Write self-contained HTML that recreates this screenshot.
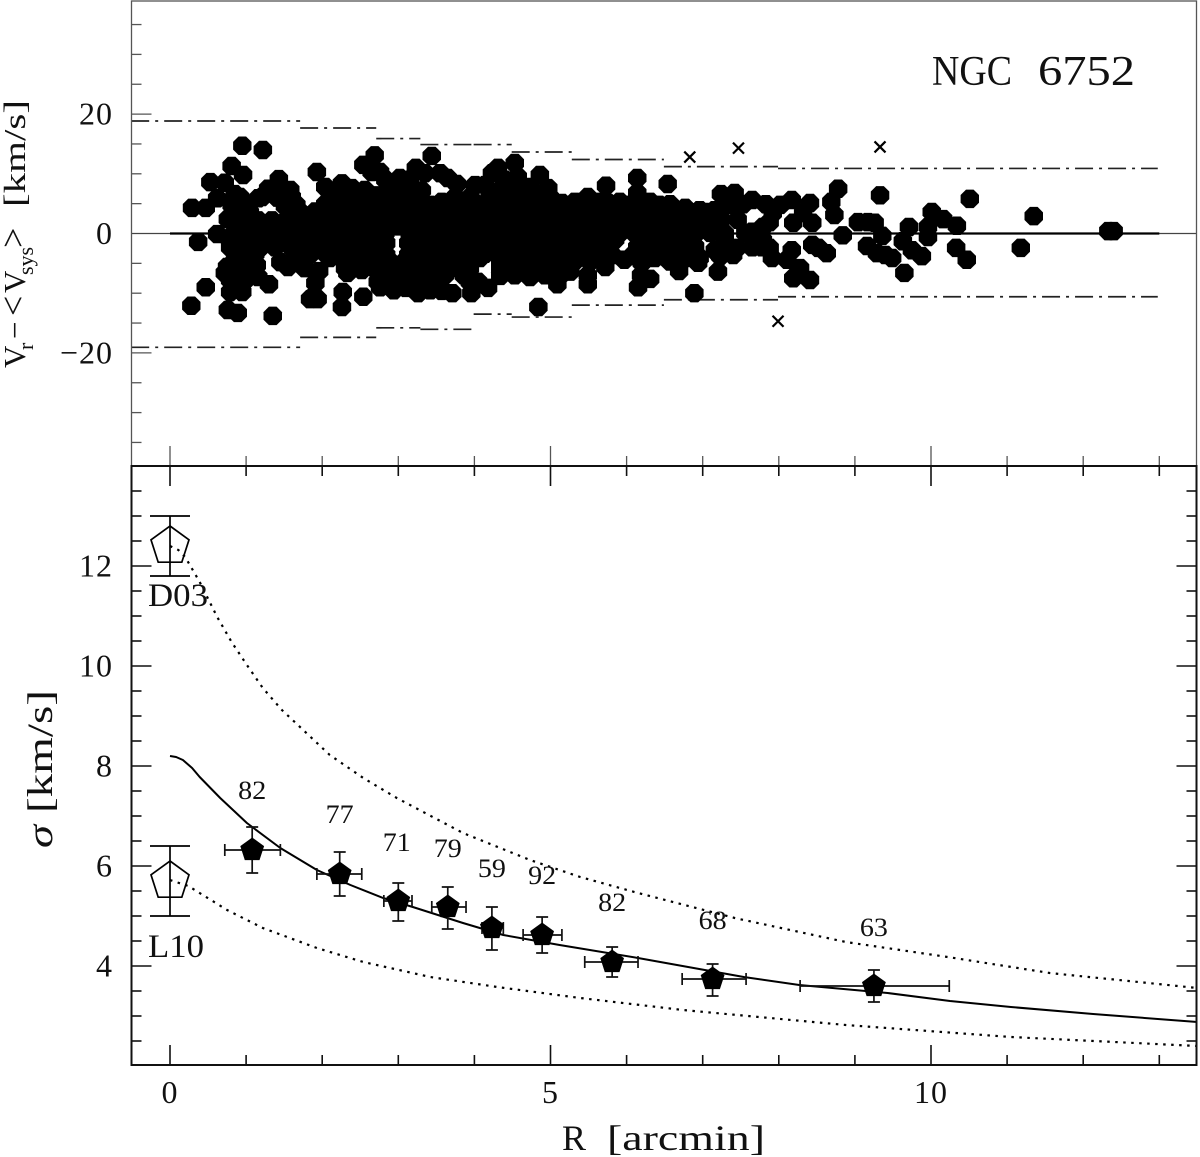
<!DOCTYPE html>
<html lang="en">
<head>
<meta charset="utf-8">
<title>NGC 6752 velocity dispersion</title>
<style>
html,body{margin:0;padding:0;background:#fff;}
svg{display:block;}
text{font-family:"Liberation Serif","DejaVu Serif",serif;fill:#111;}
</style>
</head>
<body>
<svg id="chart" xmlns="http://www.w3.org/2000/svg" width="1200" height="1157" viewBox="0 0 1200 1157">
  <rect x="0" y="0" width="1200" height="1157" fill="#fff"/>
  <g id="topPanel"></g>
  <g id="botPanel"></g>
  <rect x="131.5" y="1" width="1065" height="465" fill="none" stroke="#555" stroke-width="1.3"/>
  <rect x="131.5" y="466" width="1065" height="599" fill="none" stroke="#111" stroke-width="2"/>
  <g font-size="42">
    <text x="932" y="85" textLength="80" lengthAdjust="spacingAndGlyphs">NGC</text>
    <text x="1038" y="85" textLength="97" lengthAdjust="spacingAndGlyphs">6752</text>
  </g>
  <g font-size="36">
    <text x="562" y="1150" textLength="24" lengthAdjust="spacingAndGlyphs">R</text>
    <text x="607" y="1150" textLength="158" lengthAdjust="spacingAndGlyphs">[arcmin]</text>
  </g>
  <g transform="translate(52,848) rotate(-90)" font-size="36">
    <text x="0" y="0" font-style="italic" textLength="23" lengthAdjust="spacingAndGlyphs">σ</text>
    <text x="35" y="0" textLength="123" lengthAdjust="spacingAndGlyphs">[km/s]</text>
  </g>
  <g transform="translate(25,368) rotate(-90)" font-size="31" fill="#222">
    <text x="0" y="0">V</text>
    <text x="18" y="8" font-size="22">r</text>
    <text x="29" y="0">−</text>
    <text x="52" y="0" font-size="36">&lt;</text>
    <text x="75" y="0">V</text>
    <text x="93" y="8" font-size="22">sys</text>
    <text x="120" y="0" font-size="36">&gt;</text>
    <text x="161" y="0" textLength="107" lengthAdjust="spacingAndGlyphs">[km/s]</text>
  </g>
  <text x="148" y="606" font-size="33" textLength="60" lengthAdjust="spacingAndGlyphs">D03</text>
  <text x="148" y="957" font-size="33" textLength="56" lengthAdjust="spacingAndGlyphs">L10</text>
</svg>
<script>
// ---------- chart data ----------
const starRadius = [
0.95,1.22,0.81,0.96,0.53,0.72,0.85,0.29,0.47,0.62,
0.62,0.37,0.47,0.28,0.79,0.95,0.76,0.89,1.35,1.30,
1.16,0.72,0.75,0.89,1.14,1.43,1.29,1.16,1.93,1.55,
1.45,1.68,1.96,1.88,1.84,1.94,2.26,2.27,2.54,2.39,
2.54,2.69,2.65,2.04,2.08,2.33,2.52,3.02,3.44,3.23,
3.35,3.55,3.65,3.77,3.57,4.01,4.14,4.23,4.31,4.53,
4.57,4.86,4.97,4.73,5.15,3.97,2.83,2.72,3.25,2.76,
2.94,3.10,3.26,3.42,3.57,3.71,3.96,4.18,4.84,5.09,
4.73,6.14,5.73,6.54,6.14,5.49,5.28,5.98,5.76,6.43,
6.77,7.24,7.42,7.65,7.83,6.99,7.33,6.60,6.27,5.49,
5.49,5.72,5.97,6.15,6.19,6.31,6.20,6.69,6.48,6.94,
7.20,6.89,7.40,7.16,7.65,7.78,8.78,8.69,8.73,9.33,
10.51,8.17,8.02,8.41,8.32,8.19,8.44,7.92,7.79,7.88,
7.91,8.17,8.11,8.28,8.19,8.41,8.44,8.63,8.52,8.84,
9.04,9.17,9.26,9.36,9.16,9.29,9.49,9.40,9.65,9.63,
9.71,9.75,9.88,9.96,10.01,9.96,10.16,10.34,10.33,10.47,
11.35,11.18,12.33,12.40,7.79,
0.81,1.02,1.51,1.66,2.04,2.23,2.43,2.63,2.83,3.02,
3.22,3.42,3.61,3.81,4.01,4.20,4.40,4.60,4.80,4.99,
5.19,5.39,5.58,5.78,6.18,6.37,6.57,6.96,7.16,7.36,7.53,
0.76,0.96,1.16,1.34,1.54,1.71,1.91,2.10,2.30,2.50,
2.69,2.89,3.09,3.29,3.48,3.68,3.88,4.07,4.27,4.47,
4.66,4.86,5.06,5.26,5.45,5.65,5.85,6.04,6.24,6.44,
6.64,6.83,7.03,7.23,
0.85,1.05,1.25,1.45,1.64,1.84,2.04,2.23,2.43,2.63,
2.83,3.15,3.35,3.55,3.75,3.94,4.14,4.34,4.53,4.73,
4.93,5.12,5.32,5.52,5.72,5.91,6.11,6.31,6.50,6.70,
6.90,7.10,7.29,7.56,7.75,
0.79,0.99,1.18,1.38,1.58,1.77,1.97,2.17,2.37,2.56,
2.76,3.18,3.38,3.57,3.77,3.97,4.17,4.36,4.56,4.76,
4.95,5.15,5.35,5.55,5.74,6.14,6.33,6.53,6.73,6.90,
7.25,7.45,
0.85,1.05,2.10,2.30,2.50,2.69,2.89,3.09,3.29,3.48,
3.68,3.88,4.07,4.34,4.53,4.73,4.93,5.12,5.32,5.52,
5.72,6.18,6.37,6.57,6.77,6.96,7.23,
2.83,3.02,3.22,3.42,3.61,3.86,4.34,4.53,4.93,5.12,5.26,
1.71,2.10,2.50,2.89,3.29,3.68,4.07,4.47,4.86,5.26,
5.65,6.04,6.44,6.83,7.23,
0.92,1.31,1.71,2.19,2.59,2.98,3.38,3.77,4.17,4.56,
4.95,5.35,5.74,6.14,6.53,6.93,
0.99,1.38,1.77,2.30,2.69,3.29,3.68,4.07,4.47,4.86,
5.26,5.65,6.18,6.57,6.83,
0.92,1.64,2.23,2.63,3.15,3.55,3.94,4.34,4.73,5.12,
5.52,6.24,6.64,
2.96,3.35,3.75,4.47,4.86,5.26,
1.38,1.58,2.23,2.56,2.93,3.11,3.31,4.34,4.53,
0.92,1.21,1.41,1.60,2.17,2.37,2.56,2.96,3.15,3.75,3.94,4.20,4.40,4.60,4.80,4.99,
5.32,5.65,5.91,6.31,6.96,7.16,
2.26,2.83,3.15,4.40,2.76,
0.85,1.05,0.79,0.99,1.77,1.91,
2.73,2.92,3.09,3.29,3.48,3.94,4.05,
2.84,3.13,2.84,3.13,
3.94,4.34,2.10,5.81,6.07,
7.46,7.65,7.88,
0.85,1.05,1.91,2.30,2.69,3.09,3.48,3.88,4.27,4.66,5.06,5.45,5.85,6.24,6.64,7.03,
1.12,1.51,1.91,2.39,2.79,3.18,3.57,3.97,4.36,4.76,5.15,5.55,5.94,6.33,6.73,7.12,
0.79,1.18,1.58,1.97,2.50,3.48,3.88,4.27,4.66,5.06,5.45,5.85,6.37,7.29,
1.12,1.84,2.04,2.43,3.35,3.75,4.14,4.53,4.93,5.32,5.72,6.44,6.83,
2.30,2.69,3.15,3.55,4.66,5.06
];
const starResidual = [
14.7,14.0,11.3,9.8,8.6,8.5,6.6,4.3,4.3,5.9,
-0.1,-1.4,-9.0,-12.1,-9.8,-9.8,-12.8,-13.3,-13.8,-8.5,
-7.3,-6.6,-5.6,-6.1,-5.3,9.1,7.5,5.9,10.3,-5.6,
-4.8,-4.9,-6.3,-10.6,-11.0,-11.0,-12.3,-9.8,-10.6,7.6,
11.5,13.1,10.3,7.8,-1.1,-6.6,-6.1,9.3,13.0,11.0,
10.1,10.1,9.3,8.3,5.3,8.1,8.1,10.1,11.0,11.8,
9.5,9.8,7.6,7.8,5.1,5.6,6.4,6.4,6.4,-9.0,
-9.5,-9.1,-10.0,-9.5,-9.6,-10.0,-10.0,-9.1,-12.3,-8.5,
-7.3,9.3,8.0,8.3,6.8,6.1,4.8,4.8,5.1,4.8,
4.3,6.6,6.8,5.6,4.9,3.4,5.3,2.8,2.3,-8.5,
-7.0,-5.6,-4.4,-9.0,-7.0,-7.6,-4.9,-6.3,-3.8,-4.9,
-6.4,-10.0,-3.6,-2.8,-2.3,-2.3,7.5,5.3,3.1,6.4,
5.8,5.6,4.8,5.1,3.4,1.8,1.8,3.4,-1.1,-2.4,
-4.1,-2.8,-4.4,-5.8,-7.5,-7.8,-1.9,-3.3,-2.4,-0.3,
1.9,1.9,1.8,-0.4,-2.1,-3.3,-4.1,-3.6,-6.6,-1.3,
1.1,-2.8,-3.8,-0.6,3.6,1.1,2.4,1.3,-2.4,-4.4,
2.9,-2.4,0.4,0.4,1.1,
4.8,4.8,4.6,4.8,4.9,4.7,4.8,4.6,4.9,4.8,
4.7,4.8,4.9,4.6,4.8,4.7,4.9,4.8,4.6,4.8,
4.7,4.9,4.8,4.6,4.8,4.7,4.9,3.9,3.9,4.8,4.9,
2.4,2.5,2.2,2.2,2.4,2.6,2.3,2.4,2.5,2.2,
2.4,2.6,2.3,2.4,2.5,2.2,2.4,2.6,2.3,2.4,
2.5,2.2,2.4,2.6,2.3,2.4,2.5,2.2,2.4,2.6,
2.3,2.4,2.5,2.2,
0.1,-0.1,0.0,0.2,-0.1,0.1,0.0,-0.2,0.1,0.0,
0.1,0.0,-0.1,0.1,0.0,-0.2,0.1,0.0,-0.1,0.2,
0.0,-0.1,0.1,0.0,-0.2,0.1,0.0,-0.1,0.1,0.0,
-0.1,0.1,0.0,0.1,-0.1,
-2.3,-2.2,-2.4,-2.3,-2.1,-2.4,-2.3,-2.2,-2.4,-2.3,
-2.1,-2.3,-2.4,-2.2,-2.3,-2.1,-2.4,-2.3,-2.2,-2.4,
-2.3,-2.1,-2.3,-2.4,-2.2,-2.3,-2.1,-2.4,-2.3,-2.2,
-2.3,-2.4,
-4.6,-4.5,-4.1,-4.7,-4.4,-4.8,-4.7,-4.6,-4.7,-4.6,
-4.7,-4.4,-4.1,-4.7,-4.6,-4.7,-4.6,-4.7,-4.6,-4.7,
-4.6,-4.4,-4.1,-4.7,-4.1,-4.1,-3.8,
-7.0,-7.1,-7.0,-7.2,-7.0,-7.0,-7.1,-7.0,-7.0,-7.1,-6.4,
3.6,3.6,3.5,3.7,3.6,3.5,3.6,3.7,3.6,3.5,
3.6,3.7,3.6,3.5,3.6,
1.3,1.2,1.3,1.4,1.3,1.2,1.3,1.4,1.3,1.2,
1.3,1.4,1.3,1.2,1.3,1.4,
-1.1,-1.0,-1.2,-1.1,-1.0,-1.1,-1.2,-1.1,-1.0,-1.1,
-1.2,-1.1,-1.0,-1.1,-1.2,
-3.4,-3.3,-3.5,-3.4,-3.3,-3.5,-3.4,-3.3,-3.5,-3.4,
-3.3,-3.5,-3.4,
-5.8,-5.7,-5.8,-5.9,-5.8,-5.7,
7.3,7.3,7.2,7.3,7.4,7.3,7.2,7.3,7.4,
6.1,6.1,6.0,6.1,6.2,6.1,6.0,6.1,6.2,6.1,6.0,6.1,6.2,6.1,6.0,6.1,
5.3,5.3,5.3,5.3,3.9,3.9,
8.4,9.0,9.0,9.0,10.3,
-5.8,-5.8,-7.8,-7.8,-5.8,-8.3,
-8.1,-8.1,-8.0,-8.1,-8.2,-8.1,-8.1,
-1.6,-1.6,-3.6,-3.6,
-5.8,-5.8,-1.1,-3.6,-3.8,
2.3,0.3,1.9,
3.6,3.5,3.7,3.6,3.5,3.6,3.7,3.6,3.5,3.6,3.7,3.6,3.5,3.6,3.7,3.6,
1.3,1.4,1.2,1.3,1.4,1.2,1.3,1.4,1.2,1.3,1.4,1.2,1.3,1.4,1.2,1.3,
-1.1,-1.2,-1.0,-1.1,-1.2,-1.0,-1.1,-1.2,-1.0,-1.1,-1.2,-1.0,-1.1,-1.2,
-3.4,-3.5,-3.3,-3.4,-3.5,-3.3,-3.4,-3.5,-3.3,-3.4,-3.5,-3.3,-3.4,
-5.8,-5.9,-5.7,-5.8,-5.9,-5.7
];
const outlierRadius = [6.83, 7.47, 7.99, 9.33];
const outlierResidual = [12.8, 14.3, -14.7, 14.5];

const bandEdges = [-0.51, 1.71, 2.71, 3.29, 3.99, 4.49, 5.28, 6.49, 7.99, 12.98];
const bandUpper = [18.85, 17.67, 15.9, 14.9, 14.9, 13.65, 12.4, 11.2, 10.9];
const bandLower = [-19.06, -17.4, -15.8, -16.05, -13.5, -14.0, -12.0, -11.1, -10.6];

const binRadius = [1.08, 2.23, 3.00, 3.65, 4.23, 4.89, 5.81, 7.13, 9.25];
const binSigma  = [6.32, 5.84, 5.30, 5.18, 4.76, 4.62, 4.08, 3.74, 3.60];
const binSigmaHigh = [6.78, 6.28, 5.66, 5.58, 5.18, 4.98, 4.38, 4.04, 3.92];
const binSigmaLow  = [5.86, 5.40, 4.90, 4.74, 4.32, 4.26, 3.78, 3.40, 3.28];
const binRadiusLow  = [0.72, 1.93, 2.81, 3.44, 4.10, 4.64, 5.45, 6.73, 8.28];
const binRadiusHigh = [1.45, 2.52, 3.18, 3.89, 4.38, 5.15, 6.15, 7.57, 10.24];
const binCounts = ["82", "77", "71", "79", "59", "92", "82", "68", "63"];
const binCountSigma = [7.34, 6.86, 6.30, 6.18, 5.78, 5.64, 5.10, 4.74, 4.60];
const binCountRadius = [1.08, 2.23, 2.98, 3.65, 4.23, 4.89, 5.81, 7.13, 9.25];

const literatureNames = ["d03", "l10"];
const literatureRadius = [0, 0];
const literatureSigma = [12.4, 5.7];
const literatureHigh = [13.0, 6.4];
const literatureLow = [11.8, 5.0];

const modelRadius = [0,0.08,0.17,0.29,0.39,0.66,1.01,1.45,1.93,2.37,2.80,3.19,3.85,4.38,5.12,6.15,7.54,8.27,9.43,10.25,11.05,12.13,13.5];
const modelSigma  = [8.2,8.18,8.12,7.96,7.78,7.36,6.86,6.36,5.92,5.62,5.36,5.18,4.86,4.62,4.42,4.16,3.78,3.62,3.46,3.30,3.18,3.04,2.88];
const upperRadius = [0,0.11,0.2,0.39,0.62,0.81,1.01,1.22,1.47,1.75,2.10,2.54,2.98,3.85,4.73,5.39,6.15,7.42,8.88,10.22,11.56,13.5];
const upperSigma  = [12.4,12.32,12.18,11.68,10.98,10.48,10.02,9.56,9.12,8.72,8.22,7.76,7.36,6.66,6.12,5.78,5.46,4.96,4.48,4.18,3.86,3.56];
const lowerRadius = [0,0.24,0.75,1.22,1.93,2.54,3.42,4.30,5.39,6.74,8.88,11.05,13.5];
const lowerSigma  = [5.72,5.6,5.12,4.76,4.36,4.08,3.78,3.58,3.36,3.12,2.82,2.58,2.40];

const xTickValues = [0,1,2,3,4,5,6,7,8,9,10,11,12,13];
const xTickLabels = ["0","5","10"];
const topTickValues = [35,30,25,20,15,10,5,-5,-10,-15,-20,-25,-30,-35];
const topTickLabels = ["20","0","−20"];
const topTickLabelValues = [20,0,-20];
const botTickValues = [2.5,3,3.5,4,4.5,5,5.5,6,6.5,7,7.5,8,8.5,9,9.5,10,10.5,11,11.5,12,12.5,13,13.5];
const botTickLabels = ["4","6","8","10","12"];
const botTickLabelValues = [4,6,8,10,12];

// ---------- axis functions ----------
const xAxis = r => 170 + r * 76.1;
const yTopAxis = v => 233.5 - v * 5.97;
const yBotAxis = s => 966 - (s - 4) * 50;

const NS = 'http://www.w3.org/2000/svg';
const topG = document.getElementById('topPanel');
const botG = document.getElementById('botPanel');

function shape(tag, parent, props) {
  const node = document.createElementNS(NS, tag);
  for (const k in props) node.setAttribute(k, props[k]);
  parent.appendChild(node);
  return node;
}
function regularPoints(cx, cy, R, n, startDeg) {
  const out = [];
  for (let i = 0; i < n; i++) {
    const a = (startDeg + i * 360 / n) * Math.PI / 180;
    out.push((cx + R * Math.cos(a)).toFixed(1) + ',' + (cy + R * Math.sin(a)).toFixed(1));
  }
  return out.join(' ');
}

// ---------- top panel ticks ----------
topTickValues.forEach(v => {
  const len = Math.abs(v) === 20 ? 20 : 10;
  const el = shape('line', topG, {x1:131.5, x2:131.5 + len, y1:yTopAxis(v), y2:yTopAxis(v), stroke:'#555', 'stroke-width':1.3});
  
  
});
topTickLabels.forEach((t, i) => {
  const el = shape('text', topG, {x:113, y:yTopAxis(topTickLabelValues[i]) + 10.5, 'font-size':32, 'text-anchor':'end', 'letter-spacing':1});
  el.textContent = t;
  
  
});
xTickValues.forEach(r => {
  const len = r % 5 === 0 ? 20 : 10;
  const el = shape('line', topG, {x1:xAxis(r), x2:xAxis(r), y1:466, y2:466 - len, stroke:'#555', 'stroke-width':1.3});
  
  
});

// ---------- zero lines ----------
const zeroThin = shape('line', topG, {x1:131.5, x2:1196.5, y1:yTopAxis(0), y2:yTopAxis(0), stroke:'#444', 'stroke-width':1.3});


const zeroThick = shape('line', topG, {x1:xAxis(0), x2:xAxis(13), y1:yTopAxis(0), y2:yTopAxis(0), stroke:'#000', 'stroke-width':2.2});



// ---------- three sigma bands ----------
bandUpper.forEach((v, i) => {
  const el = shape('line', topG, {x1:xAxis(bandEdges[i]), x2:xAxis(bandEdges[i+1]), y1:yTopAxis(v), y2:yTopAxis(v), stroke:'#222', 'stroke-width':1.7, 'stroke-dasharray':'18 6 3 6'});
  
  
});
bandLower.forEach((v, i) => {
  const el = shape('line', topG, {x1:xAxis(bandEdges[i]), x2:xAxis(bandEdges[i+1]), y1:yTopAxis(v), y2:yTopAxis(v), stroke:'#222', 'stroke-width':1.7, 'stroke-dasharray':'18 6 3 6'});
  
  
});

// ---------- member stars ----------
const starCount = Math.min(starRadius.length, starResidual.length);
for (let i = 0; i < starCount; i++) {
  const el = shape('polygon', topG, {points:regularPoints(xAxis(starRadius[i]), yTopAxis(starResidual[i]), 10, 8, 22.5), fill:'#000'});
  
  
}

// ---------- rejected stars ----------
outlierRadius.forEach((r, i) => {
  const cx = xAxis(r), cy = yTopAxis(outlierResidual[i]);
  const el = shape('path', topG, {d:`M${cx-5.5} ${cy-5.5}L${cx+5.5} ${cy+5.5}M${cx-5.5} ${cy+5.5}L${cx+5.5} ${cy-5.5}`, stroke:'#000', 'stroke-width':2.2, fill:'none'});
  
  
});

// ---------- bottom panel ticks ----------
botTickValues.forEach(s => {
  const major = Number.isInteger(s) && s % 2 === 0 && s >= 4;
  const len = major ? 20 : 10;
  const left = shape('line', botG, {x1:131.5, x2:131.5 + len, y1:yBotAxis(s), y2:yBotAxis(s), stroke:'#111', 'stroke-width':1.6});
  
  
  const right = shape('line', botG, {x1:1196.5, x2:1196.5 - len, y1:yBotAxis(s), y2:yBotAxis(s), stroke:'#111', 'stroke-width':1.6});
  
  
});
botTickLabels.forEach((t, i) => {
  const el = shape('text', botG, {x:113, y:yBotAxis(botTickLabelValues[i]) + 10.5, 'font-size':32, 'text-anchor':'end', 'letter-spacing':1});
  el.textContent = t;
  
  
});
xTickValues.forEach(r => {
  const len = r % 5 === 0 ? 20 : 10;
  const top = shape('line', botG, {x1:xAxis(r), x2:xAxis(r), y1:466, y2:466 + len, stroke:'#111', 'stroke-width':1.6});
  
  
  const bottom = shape('line', botG, {x1:xAxis(r), x2:xAxis(r), y1:1065, y2:1065 - len, stroke:'#111', 'stroke-width':1.6});
  
  
});
xTickLabels.forEach(t => {
  const el = shape('text', botG, {x:xAxis(Number(t)), y:1103, 'font-size':32, 'text-anchor':'middle', 'letter-spacing':1});
  el.textContent = t;
  
  
});

// ---------- model curves ----------
function curvePoints(rs, ss) {
  return rs.map((r, i) => xAxis(r).toFixed(1) + ',' + yBotAxis(ss[i]).toFixed(1)).join(' ');
}
const modelLine = shape('polyline', botG, {points:curvePoints(modelRadius, modelSigma), fill:'none', stroke:'#000', 'stroke-width':2, 'stroke-linejoin':'round'});


const upperLine = shape('polyline', botG, {points:curvePoints(upperRadius, upperSigma), fill:'none', stroke:'#000', 'stroke-width':2.2, 'stroke-dasharray':'2.5 5.5'});


const lowerLine = shape('polyline', botG, {points:curvePoints(lowerRadius, lowerSigma), fill:'none', stroke:'#000', 'stroke-width':2.2, 'stroke-dasharray':'2.5 5.5'});



// ---------- literature points ----------
literatureNames.forEach((n, i) => {
  const cx = xAxis(literatureRadius[i]);
  const cy = yBotAxis(literatureSigma[i]);
  const hi = yBotAxis(literatureHigh[i]);
  const lo = yBotAxis(literatureLow[i]);
  const err = shape('path', botG, {d:`M${cx} ${hi}V${lo}M${cx-20} ${hi}H${cx+20}M${cx-20} ${lo}H${cx+20}`, fill:'none', stroke:'#000', 'stroke-width':1.7});
  
  
  const pent = shape('polygon', botG, {points:regularPoints(cx, cy, 20, 5, -90), fill:'none', stroke:'#000', 'stroke-width':1.7});
  
  
});

// ---------- binned dispersion points ----------
binRadius.forEach((r, i) => {
  const cx = xAxis(r);
  const cy = yBotAxis(binSigma[i]);
  const hi = yBotAxis(binSigmaHigh[i]);
  const lo = yBotAxis(binSigmaLow[i]);
  const xl = xAxis(binRadiusLow[i]);
  const xh = xAxis(binRadiusHigh[i]);
  const err = shape('path', botG, {d:`M${cx} ${hi}V${lo}M${cx-6} ${hi}H${cx+6}M${cx-6} ${lo}H${cx+6}M${xl} ${cy}H${xh}M${xl} ${cy-6}V${cy+6}M${xh} ${cy-6}V${cy+6}`, fill:'none', stroke:'#111', 'stroke-width':1.7});
  
  
  const pent = shape('polygon', botG, {points:regularPoints(cx, cy, 12.5, 5, -90), fill:'#000'});
  
  
  const label = shape('text', botG, {x:xAxis(binCountRadius[i]) - 14, y:yBotAxis(binCountSigma[i]), 'font-size':26, textLength:28, lengthAdjust:'spacingAndGlyphs'});
  label.textContent = binCounts[i];
  
  
});
</script>
</body>
</html>
